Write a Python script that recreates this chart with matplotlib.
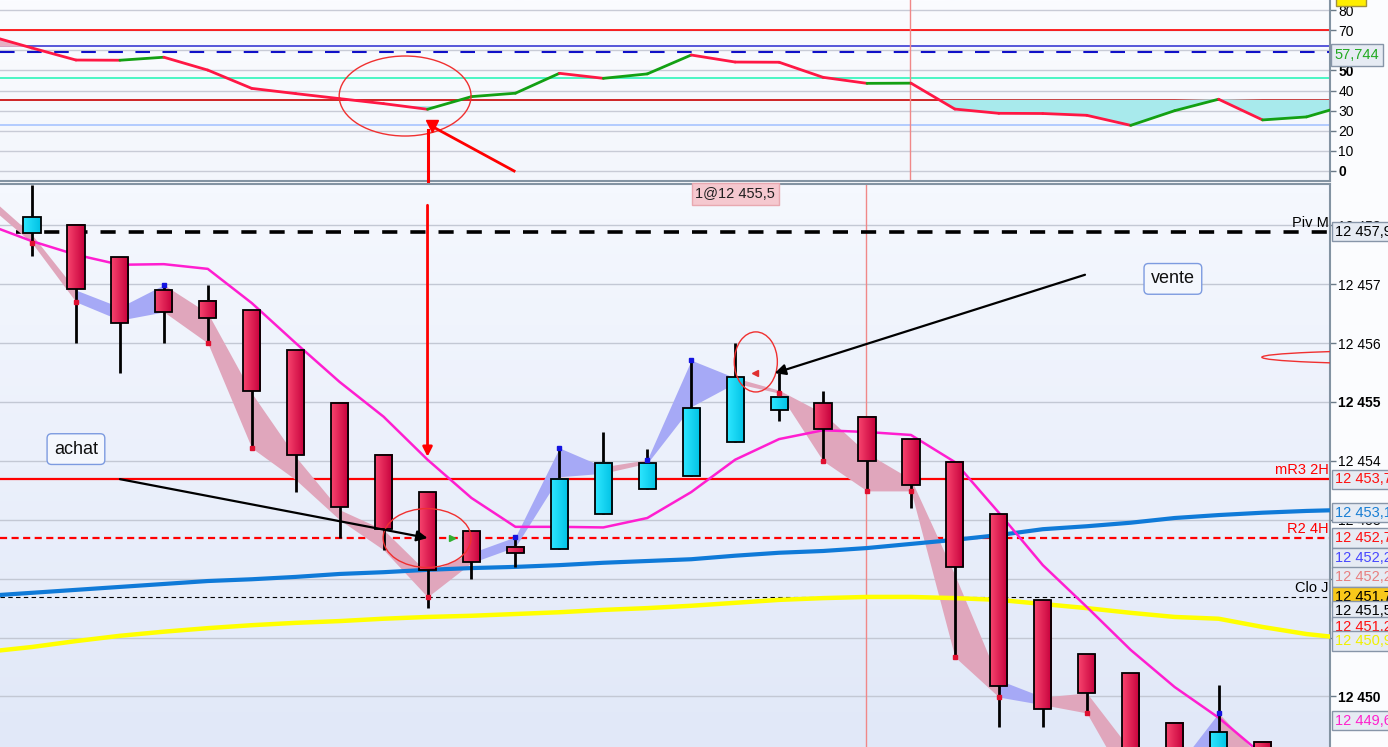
import numpy as np
import matplotlib
matplotlib.use("Agg")
import matplotlib.pyplot as plt
from matplotlib.patches import Rectangle, Ellipse
from matplotlib.colors import LinearSegmentedColormap
from matplotlib.ticker import FixedLocator, FuncFormatter
import matplotlib.transforms as mtransforms

plt.rcParams['font.family'] = ['Liberation Sans', 'DejaVu Sans']

# ---------------- data ----------------
# candles, index 0..28
opens  = [12457.87, 12458.00, 12457.46, 12456.90, 12456.71, 12456.56, 12455.88, 12454.98, 12454.10, 12453.47,
          12452.81, 12452.54, 12452.50, 12453.09, 12453.53, 12453.74, 12454.32, 12454.86, 12454.98, 12454.75,
          12454.37, 12453.98, 12453.09, 12451.63, 12450.72, 12450.39, 12449.55, 12448.80, 12449.23]
highs  = [12458.68, 12458.00, 12457.46, 12457.00, 12456.98, 12456.56, 12455.88, 12454.98, 12454.10, 12453.47,
          12452.81, 12452.71, 12454.21, 12454.49, 12454.20, 12455.71, 12456.00, 12455.49, 12455.19, 12454.75,
          12454.37, 12453.98, 12453.09, 12451.63, 12450.72, 12450.39, 12449.55, 12450.20, 12449.23]
lows   = [12457.48, 12456.00, 12455.49, 12456.00, 12456.00, 12454.21, 12453.48, 12452.69, 12452.48, 12451.50,
          12451.99, 12452.19, 12452.50, 12453.09, 12453.53, 12453.74, 12454.32, 12454.68, 12454.00, 12453.49,
          12453.20, 12450.69, 12449.49, 12449.49, 12449.71, 12448.70, 12448.50, 12448.60, 12448.40]
closes = [12458.14, 12456.91, 12456.34, 12456.53, 12456.42, 12455.19, 12454.10, 12453.21, 12452.84, 12452.15,
          12452.29, 12452.43, 12453.69, 12453.96, 12453.96, 12454.89, 12455.42, 12455.09, 12454.54, 12454.00,
          12453.59, 12452.19, 12450.18, 12449.78, 12450.06, 12448.90, 12448.70, 12449.39, 12448.60]

# indicator series, index -1..30
ma_magenta = [12458.01, 12457.73, 12457.50, 12457.33, 12457.34, 12457.26, 12456.68, 12456.00, 12455.34, 12454.75,
              12454.02, 12453.37, 12452.88, 12452.88, 12452.87, 12453.03, 12453.47, 12454.02, 12454.37, 12454.52,
              12454.49, 12454.44, 12453.98, 12453.12, 12452.23, 12451.52, 12450.79, 12450.16, 12449.64, 12449.01,
              12448.41, 12447.90]
ma_blue = [12451.71, 12451.76, 12451.81, 12451.86, 12451.91, 12451.96, 12451.99, 12452.03, 12452.08, 12452.11,
           12452.15, 12452.18, 12452.20, 12452.23, 12452.27, 12452.30, 12452.33, 12452.39, 12452.44, 12452.47,
           12452.52, 12452.59, 12452.66, 12452.74, 12452.84, 12452.89, 12452.95, 12453.03, 12453.08, 12453.12,
           12453.15, 12453.17]
ma_yellow = [12450.76, 12450.84, 12450.94, 12451.03, 12451.10, 12451.16, 12451.21, 12451.25, 12451.28, 12451.32,
             12451.35, 12451.37, 12451.40, 12451.43, 12451.47, 12451.50, 12451.54, 12451.59, 12451.64, 12451.67,
             12451.69, 12451.69, 12451.67, 12451.64, 12451.57, 12451.50, 12451.42, 12451.35, 12451.32, 12451.18,
             12451.06, 12450.98]
# ribbon, index -1..28
ribbon_top = [12458.50, 12457.84, 12456.90, 12456.61, 12456.99, 12456.51, 12455.15, 12454.07, 12453.17, 12452.83,
              12452.10, 12452.44, 12452.71, 12454.22, 12453.90, 12454.02, 12455.71, 12455.41, 12455.20, 12454.81,
              12454.13, 12453.69, 12452.06, 12450.28, 12449.99, 12450.06, 12449.09, 12448.75, 12449.72, 12448.92]
ribbon_bot = [12458.34, 12457.70, 12456.70, 12456.39, 12456.53, 12456.00, 12454.22, 12453.68, 12453.00, 12452.49,
              12451.69, 12452.27, 12452.54, 12453.73, 12453.79, 12453.96, 12454.92, 12455.32, 12455.15, 12454.00,
              12453.49, 12453.49, 12450.67, 12449.99, 12449.86, 12449.72, 12448.41, 12448.24, 12449.18, 12448.41]
ribbon_trend = [-1, -1, -1, 1, 1, -1, -1, -1, -1, -1, -1, -1, 1, 1, 1, -1, 1, 1, -1, -1,
                -1, -1, -1, -1, 1, -1, -1, -1, 1, -1]
ribbon_high_pts = [3, 11, 12, 14, 15, 27]
ribbon_low_pts = [0, 1, 4, 5, 9, 17, 18, 19, 20, 21, 22, 24]

# RSI and its lower band, index -1..30
rsi = [67.4, 61.2, 55.2, 55.1, 56.6, 50.2, 41.1, 38.5, 36.0, 33.5, 30.7, 37.0, 38.7, 48.6, 46.1, 48.3,
       57.7, 54.2, 54.1, 46.6, 43.6, 43.7, 30.8, 28.7, 28.6, 27.7, 22.7, 30.0, 35.7, 25.4, 26.9, 33.3]
rsi_band = [28.0, 28.5, 29.0, 29.5, 30.0, 30.5, 31.0, 31.4, 31.8, 32.1, 32.3, 32.5, 32.8, 33.1, 33.4, 33.7,
            34.0, 34.3, 34.6, 34.9, 35.2, 35.4, 35.4, 35.4, 35.4, 35.4, 35.4, 35.4, 35.8, 35.4, 35.4, 35.4]

rsi_ticks = [0, 10, 20, 30, 40, 50, 60, 70, 80]
rsi_levels = {'upper': 70, 'mid_hi': 62.0, 'signal': 59.3, 'mid': 46.4, 'lower': 35.4, 'low2': 23.0}
rsi_value_label = "57,744"
rsi_value = 57.5

price_ticks = [12449, 12450, 12451, 12452, 12453, 12454, 12455, 12456, 12457, 12458]
levels = {'Piv M': 12457.89, 'mR3 2H': 12453.69, 'R2 4H': 12452.69, 'Clo J': 12451.69}
right_labels = [("12 457,9", 12457.89, '#000000', '#e6ebf3'),
                ("12 453,7", 12453.69, '#ff1010', '#e6ebf3'),
                ("12 453,1", 12453.12, '#1a7fd4', '#e6ebf3'),
                ("12 452,7", 12452.69, '#ff1010', '#e6ebf3'),
                ("12 452,2", 12452.35, '#4848ff', '#e6ebf3'),
                ("12 452,2", 12452.03, '#e88080', '#e6ebf3'),
                ("12 451,7", 12451.69, '#000000', '#f8c81a'),
                ("12 451,5", 12451.45, '#000000', '#e6ebf3'),
                ("12 451,2", 12451.18, '#ff1010', '#e6ebf3'),
                ("12 450,9", 12450.94, '#f0f000', '#e6ebf3'),
                ("12 449,6", 12449.59, '#ff22cc', '#e6ebf3')]

# annotation anchors (index, price)
order_label = ("1@12 455,5", 16.0, 12458.53)
achat_label = ("achat", 1.0, 12454.20)
vente_label = ("vente", 25.96, 12457.09)
achat_arrow = ((2.0, 12453.69), (9.0, 12452.69))
vente_arrow = ((23.96, 12457.16), (16.9, 12455.49))
buy_marker = (9.56, 12452.69)
sell_marker = (16.45, 12455.49)
vline_main = 18.97
vline_rsi = 19.97

# ---------------- figure ----------------
W, H = 1388, 747
fig = plt.figure(figsize=(W / 100, H / 100), dpi=100, facecolor='#fbfcfe')
axw = 1330 / W
ax_r = fig.add_axes([0, 1 - 181 / H, axw, 181 / H])
ax = fig.add_axes([0, 0, axw, (H - 184) / H])

xl = (-0.728, 29.535)
n = len(opens)
xc = np.arange(n)
xi = np.arange(-1, len(ma_blue) - 1)
xr = np.arange(-1, len(rsi) - 1)


def bg(a, top, bot):
    cm = LinearSegmentedColormap.from_list('g', [bot, top])
    a.imshow(np.linspace(0, 1, 64).reshape(-1, 1), extent=[0, 1, 0, 1], transform=a.transAxes,
             cmap=cm, origin='lower', aspect='auto', zorder=0)


for a in (ax, ax_r):
    for s in ('left', 'top', 'bottom'):
        a.spines[s].set_visible(False)
    a.spines['right'].set_color('#8393a2')
    a.spines['right'].set_linewidth(1.5)
    a.set_xticks([])
    a.yaxis.tick_right()
    a.tick_params(axis='y', direction='out', length=4, width=1, color='#6a7a88', labelsize=10, pad=2)

ax_r.spines['bottom'].set_visible(True)
ax_r.spines['bottom'].set_color('#8393a2')
ax_r.spines['bottom'].set_linewidth(1.5)
ax.spines['top'].set_visible(True)
ax.spines['top'].set_color('#8393a2')
ax.spines['top'].set_linewidth(1.5)

bg(ax, '#f5f8fe', '#e1e8f8')
bg(ax_r, '#fbfcff', '#f3f6fc')

# ---------------- RSI panel ----------------
for t in rsi_ticks:
    ax_r.axhline(t, color='#c8cbd6', lw=1, zorder=1)
ax_r.axhline(rsi_levels['upper'], color='#ff0000', lw=1.2, zorder=2)
ax_r.axhline(rsi_levels['mid_hi'], color='#2a2ad0', lw=1.1, zorder=2)
ax_r.axhline(rsi_levels['signal'], color='#1010c8', lw=1.5, ls=(0, (7, 6)), zorder=2)
ax_r.axhline(rsi_levels['mid'], color='#3cf5c0', lw=1.3, zorder=2)
ax_r.axhline(rsi_levels['lower'], color='#c80000', lw=1.2, zorder=2)
ax_r.axhline(rsi_levels['low2'], color='#a8c4ff', lw=1.2, zorder=2)
ax_r.axvline(vline_rsi, color='#f08888', lw=1, zorder=2)

rs = np.array(rsi)
rb = np.array(rsi_band)
ax_r.fill_between(xr, rs, rb, where=rs < rb, interpolate=True,
                  color='#a8eaec', lw=0, zorder=2.5)
ax_r.fill_between(xr, rs, rsi_levels['mid_hi'], where=rs > rsi_levels['mid_hi'], interpolate=True,
                  color='#e6b0c4', lw=0, zorder=2.5)
for i in range(len(rs) - 1):
    c = '#13a013' if rs[i + 1] > rs[i] else '#ff1744'
    ax_r.plot(xr[i:i + 2], rs[i:i + 2], color=c, lw=2, solid_capstyle='round', zorder=4)

ax_r.add_patch(Ellipse((8.49, 37.3), 3.0, 39.8, fill=False, ec='#f03030', lw=1, zorder=5))
ax_r.plot([9.0, 9.0], [-5, 20.5], color='#ff0000', lw=2.2, zorder=5, clip_on=False)
ax_r.plot([10.97, 9.12], [0.0, 22.0], color='#ff0000', lw=2, zorder=5)
ax_r.plot([9.1], [22.5], marker='v', color='#ff0000', ms=8, zorder=6)

ax_r.set_xlim(*xl)
ax_r.set_ylim(-4.98, 85.07)
ax_r.yaxis.set_major_locator(FixedLocator(rsi_ticks))
ax_r.yaxis.set_major_formatter(FuncFormatter(lambda v, p: f"{int(round(v))}"))
for lab in ax_r.get_yticklabels():
    if lab.get_text() in ('0', '50'):
        lab.set_fontweight('bold')

trr = mtransforms.blended_transform_factory(ax_r.transAxes, ax_r.transData)
ax_r.text(1.0035, rsi_value, rsi_value_label, transform=trr, color='#22aa22', fontsize=10.5,
          va='center', ha='left', zorder=10, clip_on=False,
          bbox=dict(boxstyle='square,pad=0.28', fc='#e6ebf3', ec='#8795a8', lw=1))
fig.patches.append(Rectangle((1336 / W, 1 - 6 / H), 30 / W, 10 / H, transform=fig.transFigure,
                             fc='#ffee00', ec='#a09040', lw=1))

# ---------------- main panel ----------------
for t in price_ticks:
    ax.axhline(t, color='#c3c8d4', lw=1, zorder=1)
ax.axvline(vline_main, color='#f08888', lw=1, zorder=2)

ax.axhline(levels['Piv M'], xmin=0.012, color='black', lw=2.6, ls=(0, (4.2, 3.6)), zorder=2)
ax.axhline(levels['mR3 2H'], color='#ff0000', lw=1.6, zorder=2)
ax.axhline(levels['R2 4H'], color='#ff0000', lw=1.6, ls=(0, (3.2, 2.0)), zorder=2)
ax.axhline(levels['Clo J'], color='black', lw=0.8, ls=(0, (4, 3)), zorder=2)
for name, v in levels.items():
    col = '#ff0000' if name in ('mR3 2H', 'R2 4H') else '#000000'
    ax.text(29.5, v + 0.03, name, ha='right', va='bottom', fontsize=10.5, color=col, zorder=6)

# ribbon
for i in range(len(ribbon_top) - 1):
    col = '#a6a9f6' if ribbon_trend[i + 1] > 0 else '#e0a6bc'
    ax.fill_between([i - 1, i], [ribbon_bot[i], ribbon_bot[i + 1]], [ribbon_top[i], ribbon_top[i + 1]],
                    color=col, lw=0, zorder=2.2)

ax.plot(xi, ma_yellow, color='#ffff00', lw=3.2, zorder=3)
ax.plot(xi, ma_blue, color='#0f7ad8', lw=3, zorder=3)
ax.plot(xi, ma_magenta, color='#ff1ed0', lw=1.8, zorder=3.1)

# candles
cm_red = LinearSegmentedColormap.from_list('r', ['#f7446e', '#c6003b'])
cm_cy = LinearSegmentedColormap.from_list('c', ['#2ee6ff', '#00c2e4'])
grad = np.linspace(0, 1, 32).reshape(1, -1)
bw = 0.39
for i in range(n):
    o, h, l, c = opens[i], highs[i], lows[i], closes[i]
    ax.plot([xc[i], xc[i]], [l, h], color='black', lw=2, zorder=4, solid_capstyle='butt')
    y0, y1 = min(o, c), max(o, c)
    cmap = cm_cy if c >= o else cm_red
    ax.imshow(grad, extent=[xc[i] - bw / 2, xc[i] + bw / 2, y0, y1], cmap=cmap, aspect='auto',
              origin='lower', zorder=4.5)
    ax.add_patch(Rectangle((xc[i] - bw / 2, y0), bw, y1 - y0, fill=False, ec='black', lw=1.3, zorder=4.6))

# ribbon extreme markers
ax.plot(ribbon_high_pts, [ribbon_top[i + 1] for i in ribbon_high_pts], ls='none', marker='s', ms=3.2,
        color='#1414e0', zorder=4.8)
ax.plot(ribbon_low_pts, [ribbon_bot[i + 1] for i in ribbon_low_pts], ls='none', marker='s', ms=3.2,
        color='#e01030', zorder=4.8)

# annotations
ax.add_patch(Ellipse((8.99, 12452.69), 2.0, 1.0, fill=False, ec='#f03030', lw=1, zorder=5))
ax.add_patch(Ellipse((16.47, 12455.68), 0.98, 1.02, fill=False, ec='#f03030', lw=1, zorder=5))
ax.add_patch(Ellipse((31.92, 12455.76), 7.87, 0.24, fill=False, ec='#f03030', lw=1, zorder=5))
ax.plot(*buy_marker, marker='>', color='#30b030', ms=5, zorder=6)
ax.plot(*sell_marker, marker='<', color='#e03030', ms=5, zorder=6)

ax.annotate('', xy=(9.0, 12454.07), xytext=(9.0, 12458.34),
            arrowprops=dict(arrowstyle='-|>', color='#ff0000', lw=2, mutation_scale=14, shrinkA=0, shrinkB=0),
            zorder=6)
ax.annotate('', xy=achat_arrow[1], xytext=achat_arrow[0],
            arrowprops=dict(arrowstyle='-|>', color='black', lw=1.6, mutation_scale=16, shrinkA=0, shrinkB=0),
            zorder=6)
ax.annotate('', xy=vente_arrow[1], xytext=vente_arrow[0],
            arrowprops=dict(arrowstyle='-|>', color='black', lw=1.6, mutation_scale=16, shrinkA=0, shrinkB=0),
            zorder=6)

ax.text(order_label[1], order_label[2], order_label[0], ha='center', va='center', fontsize=10.5, color='#202020',
        zorder=7, bbox=dict(boxstyle='square,pad=0.25', fc='#f5c8cf', ec='#e8a8b0', lw=1))
for lab in (achat_label, vente_label):
    ax.text(lab[1], lab[2], lab[0], ha='center', va='center', fontsize=13, color='#101010', zorder=7,
            bbox=dict(boxstyle='round,pad=0.38,rounding_size=0.25', fc='#f4f7fd', ec='#7d9be0', lw=1))

ax.set_xlim(*xl)
ax.set_ylim(12449.142, 12458.701)
ax.yaxis.set_major_locator(FixedLocator(price_ticks))
ax.yaxis.set_major_formatter(FuncFormatter(lambda v, p: f"{int(round(v)):,}".replace(',', ' ')))
for lab in ax.get_yticklabels():
    if lab.get_text() in ('12 455', '12 450'):
        lab.set_fontweight('bold')

trm = mtransforms.blended_transform_factory(ax.transAxes, ax.transData)
for txt, v, tc, fc in right_labels:
    ax.text(1.0035, v, txt, transform=trm, color=tc, fontsize=10.5, va='center', ha='left', zorder=10,
            clip_on=False, bbox=dict(boxstyle='square,pad=0.18', fc=fc, ec='#8795a8', lw=1))

fig.savefig('out.png', dpi=100, facecolor=fig.get_facecolor())
